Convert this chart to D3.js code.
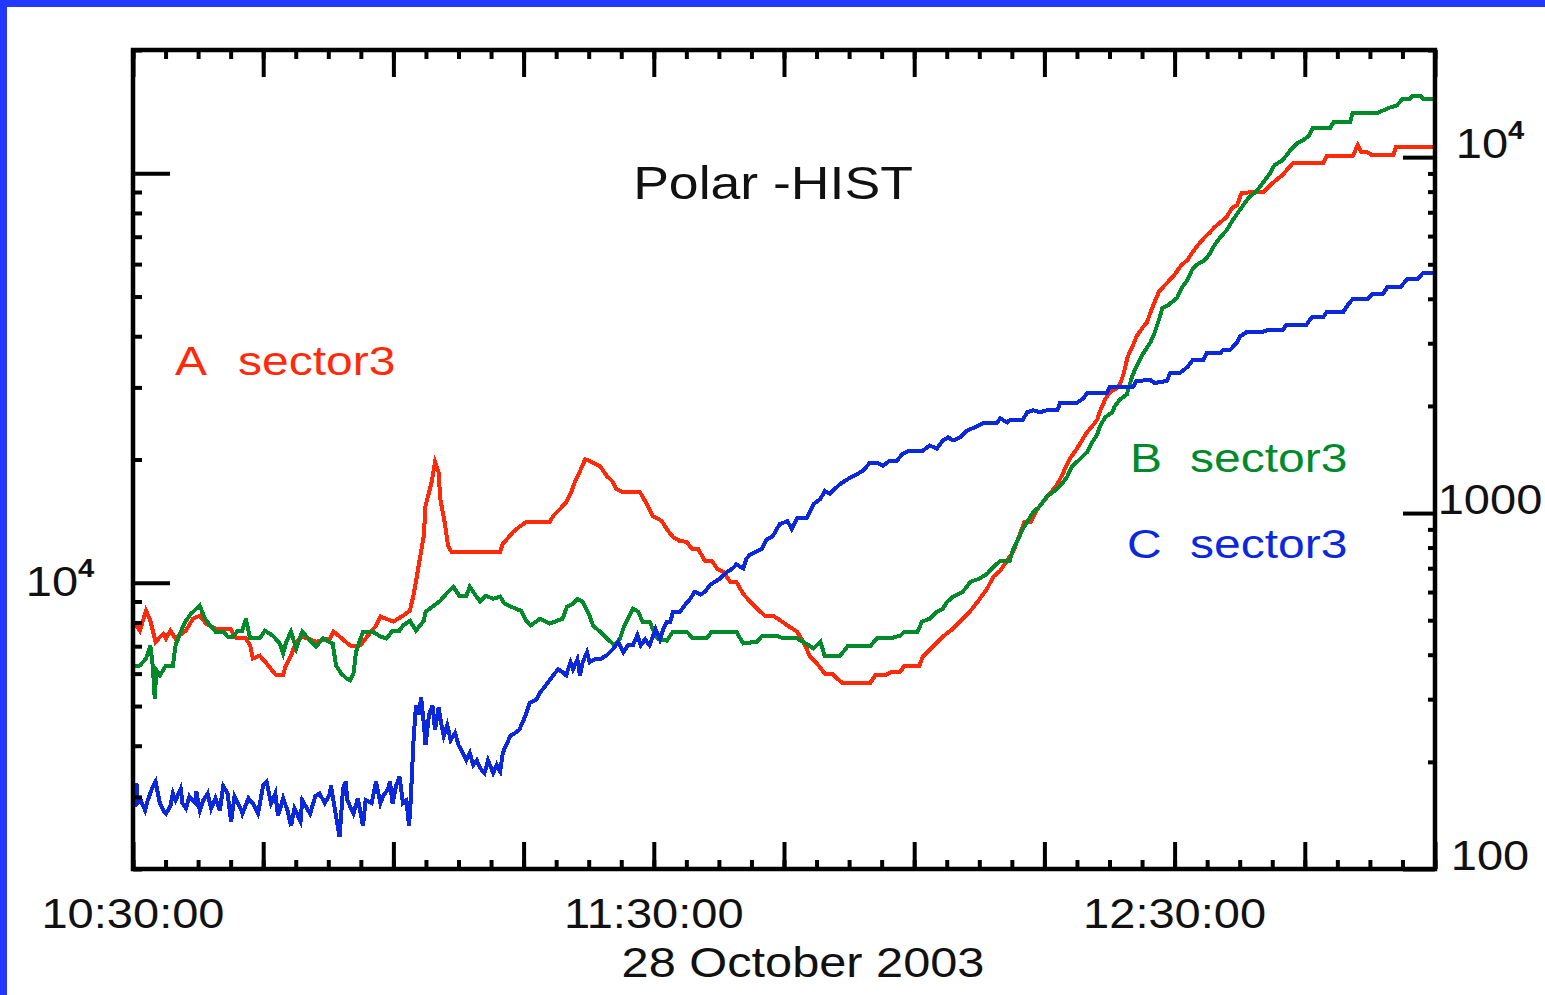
<!DOCTYPE html>
<html>
<head>
<meta charset="utf-8">
<script src="https://cdn.jsdelivr.net/npm/d3@7"></script>
<style>
  html, body { margin: 0; padding: 0; background: #fff; }
  svg { display: block; }
  text { font-family: "Liberation Sans", Arial, Helvetica, sans-serif; fill: #111; }
</style>
</head>
<body>
<svg id="chart" width="1545" height="995"></svg>
<script>
// ---- data -------------------------------------------------------------
const chartTitle = "Polar -HIST";
const dayLabel = "28 October 2003";
const dayISO = "2003-10-28";
const timeSpan = ["10:30:00", "13:00:00"];
const xTickLabels = ["10:30:00", "11:30:00", "12:30:00"];

const leftTickValues = [1e4];
const leftTickLabels = ["10^4"];
const rightTickValues = [100, 1000, 1e4];
const rightTickLabels = ["100", "1000", "10^4"];

const seriesLetters = ["A", "B", "C"];
const sectorName = "sector3";

// [minutes after 10:30 UT, counts]; A and B on the left axis, C on the right axis
const sectorA = [
  [0.0,8080],[0.8,7640],[1.5,8550],[2.0,8080],[2.6,7180],[3.5,7510],[3.8,7310],[4.3,7640],[4.9,7310],
  [6.1,7640],[6.9,8170],[7.7,8310],[8.4,7950],[9.5,7730],[11.2,7730],[11.9,7310],[13.0,7310],[13.5,7030],
  [13.8,6530],[14.6,6640],[15.4,6350],[16.5,5940],[17.3,5940],[17.6,6280],[18.2,6640],[18.8,7180],[19.5,7390],
  [21.1,7180],[22.7,7310],[23.1,7600],[23.8,7390],[25.0,7030],[25.7,6990],[26.2,7030],[26.8,7310],[28.0,7860],
  [28.5,8270],[30.0,8040],[31.1,8310],[31.9,8550],[32.3,9300],[32.6,10060],[33.1,11630],[33.5,13010],
  [33.7,15390],[34.4,17610],[34.8,19700],[35.2,18630],[35.4,16010],[35.9,14070],[36.3,12300],[36.7,11900],
  [42.3,11900],[42.6,12440],[43.8,13310],[44.5,13690],[45.3,14070],[48.0,14070],[48.4,14550],[49.2,15140],
  [49.9,15740],[50.5,16650],[50.9,17610],[51.5,18730],[52.1,20040],[52.9,19700],[53.8,19270],[54.6,18210],
  [55.2,17710],[55.7,16930],[56.4,16650],[58.4,16650],[59.0,15830],[59.9,14550],[60.9,14160],[61.5,13530],
  [62.2,12940],[63.0,12650],[63.8,12580],[64.4,12100],[65.1,12100],[65.9,11310],[66.7,11310],[67.3,10820],
  [68.0,10640],[68.8,10060],[69.5,10060],[70.3,9400],[71.3,8890],[71.9,8640],[72.8,8310],[73.7,8310],
  [74.3,8170],[75.4,7860],[76.5,7600],[77.2,7180],[78.0,6610],[78.8,6350],[79.7,6000],[80.6,6000],
  [81.1,5840],[81.8,5680],[84.9,5680],[85.5,5940],[86.6,5940],[87.5,6070],[88.4,6070],[88.9,6280],
  [90.6,6280],[91.0,6610],[92.2,6990],[93.3,7390],[94.5,7730],[95.3,8040],[96.5,8550],[97.4,9040],
  [98.4,9670],[99.1,10340],[99.9,10700],[101.4,11900],[102.7,14070],[103.4,14070],[104.2,15140],
  [105.3,16190],[106.5,17410],[107.2,18630],[107.9,20040],[108.7,21180],[109.4,22400],[109.9,23300],
  [110.5,24100],[111.1,25060],[111.4,26220],[112.0,28030],[112.5,29160],[113.1,29650],[113.7,30490],
  [114.1,32250],[114.6,35670],[115.1,37510],[115.6,39900],[116.3,41960],[116.8,43150],[117.2,45630],
  [117.7,48540],[118.2,51340],[118.9,53390],[119.8,55850],[120.8,59720],[121.5,61420],[122.0,63890],
  [122.7,66810],[123.5,69870],[124.1,71850],[124.6,73890],[125.3,75990],[126.0,78140],[126.6,82190],
  [127.2,83580],[127.7,89440],[129.0,89950],[130.2,89950],[131.4,95080],[132.4,98880],[133.6,105760],
  [137.1,105760],[137.5,110000],[140.5,110000],[141.1,117000],[141.5,112500],[142.2,112500],[142.8,110600],
  [145.2,110600],[145.5,115700],[150.0,115700]
];

const sectorB = [
  [0.0,6250],[0.8,6280],[1.5,6530],[2.0,7030],[2.3,6180],[2.5,5220],[2.7,6110],[3.1,5940],[3.8,6280],
  [4.6,6280],[4.9,7030],[5.5,7600],[6.1,8080],[6.7,8410],[7.3,8640],[7.7,8790],[8.3,8170],[8.9,7860],
  [9.5,7600],[10.4,7600],[10.9,7390],[11.5,7390],[12.1,7640],[12.6,7640],[13.0,8170],[13.5,7310],
  [14.6,7310],[15.2,7640],[16.1,7430],[16.9,7110],[17.3,6720],[17.6,7110],[18.2,7600],[18.8,6910],
  [19.5,7600],[20.2,7310],[21.1,6990],[21.9,7310],[23.0,7110],[23.4,6280],[24.0,6000],[24.6,5840],
  [25.0,5780],[25.4,6000],[25.7,6790],[26.5,7600],[27.6,7600],[28.5,7390],[29.2,7310],[29.9,7640],
  [30.7,7640],[31.1,7860],[31.9,8080],[32.6,7640],[33.5,8080],[33.7,8500],[34.5,8740],[35.4,9040],
  [36.1,9400],[36.9,9780],[37.6,9300],[38.4,9300],[38.8,9780],[39.5,9300],[40.0,8990],[40.6,9300],
  [41.5,9140],[42.3,9250],[42.8,8890],[44.1,8640],[44.7,8550],[45.3,8080],[45.8,7860],[46.9,8170],
  [48.0,7950],[49.5,8170],[50.0,8740],[50.7,8890],[51.2,9140],[51.8,8990],[52.5,8410],[53.0,7860],
  [53.8,7600],[54.6,7310],[55.5,7030],[56.1,7310],[56.6,7860],[57.0,8170],[57.6,8640],[58.2,8500],
  [58.7,8040],[59.5,8040],[60.4,7310],[61.5,7220],[62.2,7600],[63.8,7600],[64.5,7310],[66.1,7310],
  [66.7,7600],[69.5,7600],[70.3,7110],[71.9,7180],[72.5,7430],[74.2,7430],[74.9,7310],[76.5,7310],
  [77.2,7180],[78.4,6910],[79.2,7180],[79.7,6610],[80.6,6610],[81.5,6640],[82.3,6990],[84.9,6990],
  [85.7,7310],[87.2,7310],[88.4,7430],[88.9,7600],[90.4,7600],[90.9,8040],[91.8,8170],[92.6,8500],
  [93.3,8640],[93.8,8990],[94.5,9250],[95.6,9510],[96.5,10060],[97.5,10230],[98.4,10520],
  [99.3,11000],[99.9,11310],[101.0,11310],[101.4,12100],[102.0,12790],[102.5,13530],[103.1,14160],
  [103.7,14880],[104.5,15390],[105.3,16280],[106.0,16650],[106.8,17220],[107.6,18110],[108.2,19270],
  [109.1,20040],[109.9,20830],[110.5,22030],[111.1,23040],[111.4,24100],[112.0,25350],[112.8,26070],
  [113.1,26960],[113.7,28030],[114.5,28840],[115.1,31890],[115.6,33730],[116.3,36070],[117.2,38580],
  [117.7,40800],[118.2,43880],[118.6,46930],[119.3,47730],[120.3,49650],[120.8,52500],[121.5,54920],
  [122.0,58070],[122.5,59720],[123.5,61420],[124.1,63890],[124.6,66810],[125.3,69870],[126.0,72660],
  [126.7,76840],[127.5,81280],[128.5,86980],[129.3,89950],[129.8,92450],[130.4,96160],[131.0,100000],
  [131.5,104590],[132.4,107550],[132.9,110600],[133.5,115000],[134.1,118300],[134.8,120300],[135.5,123700],
  [135.9,128700],[137.9,128700],[138.3,133100],[140.2,133100],[140.5,140000],[143.3,140000],[144.0,142300],
  [144.8,144700],[145.6,146400],[146.3,152200],[147.1,152200],[147.5,154800],[148.3,154800],[148.6,152200],
  [150.0,152200]
];

const sectorC = [
  [0.0,163],[0.4,174],[0.5,153],[0.9,156],[1.4,146],[1.7,156],[2.3,171],[2.6,176],[3.1,153],[3.5,146],
  [3.8,143],[4.3,150],[4.6,163],[4.9,156],[5.5,168],[5.7,153],[6.1,148],[6.5,160],[7.2,153],[7.3,165],
  [7.7,146],[8.1,156],[8.6,163],[9.0,148],[9.5,158],[10.0,146],[10.4,171],[10.9,163],[11.3,136],
  [11.7,160],[12.4,148],[12.6,143],[13.3,158],[13.8,153],[14.4,143],[15.0,172],[15.4,176],[15.9,153],
  [16.4,163],[16.7,141],[17.3,158],[17.8,146],[18.2,132],[18.6,148],[19.3,136],[19.5,156],[20.4,143],
  [21.0,160],[21.5,163],[22.1,153],[22.7,163],[22.8,172],[23.3,145],[23.8,123],[24.2,168],[24.5,176],
  [24.7,156],[25.4,143],[25.9,158],[26.5,132],[26.8,156],[27.5,153],[28.0,176],[28.5,153],[28.8,160],
  [29.4,168],[29.6,176],[29.9,153],[30.3,171],[30.7,182],[31.1,153],[31.5,156],[31.8,132],[32.0,156],
  [32.3,226],[32.6,288],[32.9,271],[33.2,303],[33.5,257],[33.7,223],[34.1,271],[34.5,288],[34.8,246],
  [35.2,284],[35.5,257],[35.8,237],[36.2,254],[36.6,230],[37.1,241],[37.5,223],[37.9,214],[38.4,202],
  [38.8,212],[39.2,196],[39.6,202],[40.0,192],[40.5,186],[40.9,202],[41.5,186],[41.9,196],[42.3,188],
  [42.6,212],[43.1,226],[43.5,237],[44.0,241],[44.5,246],[45.2,269],[45.7,293],[46.5,299],[46.9,313],
  [47.8,334],[48.4,350],[49.0,364],[49.5,357],[49.9,350],[50.4,381],[50.7,364],[51.2,388],[51.5,350],
  [51.8,381],[52.3,406],[52.6,381],[53.2,388],[53.8,388],[54.6,399],[55.3,415],[55.9,434],[56.5,406],
  [57.0,425],[57.6,425],[58.1,454],[58.5,425],[59.0,442],[59.5,425],[60.2,472],[60.7,442],[61.1,472],
  [61.5,494],[61.9,494],[62.2,528],[63.0,528],[63.6,552],[64.2,574],[64.7,601],[65.4,590],[65.9,601],
  [66.5,629],[67.1,642],[67.6,654],[68.5,685],[69.1,699],[69.5,717],[70.3,699],[70.7,746],[71.1,765],
  [71.9,781],[72.5,796],[73.0,844],[73.7,861],[74.5,931],[75.4,949],[75.9,901],[76.5,968],[77.6,968],
  [78.4,1060],[79.2,1096],[79.7,1154],[80.3,1132],[80.6,1154],[81.5,1208],[82.6,1257],[83.5,1290],
  [84.1,1315],[84.9,1386],[85.7,1386],[86.4,1359],[87.2,1404],[88.0,1404],[88.7,1469],[89.5,1498],
  [91.0,1498],[91.8,1548],[92.6,1518],[93.3,1600],[93.9,1632],[94.5,1600],[95.3,1632],[96.1,1707],
  [96.7,1730],[97.9,1787],[99.5,1787],[99.9,1846],[100.7,1799],[101.0,1823],[102.5,1823],[103.0,1920],
  [103.7,1945],[104.5,1920],[105.3,1945],[106.5,1945],[106.8,2036],[108.7,2036],[109.5,2103],[109.9,2173],
  [112.2,2173],[112.5,2260],[115.2,2260],[115.6,2350],[117.2,2365],[117.7,2320],[119.1,2350],[119.5,2476],
  [120.6,2476],[121.5,2575],[122.1,2696],[123.3,2696],[123.7,2821],[125.3,2821],[125.6,2877],[126.4,2877],
  [127.2,3011],[127.5,3131],[128.4,3236],[130.2,3236],[131.0,3278],[132.5,3278],[132.9,3386],[135.2,3386],
  [135.8,3545],[137.1,3545],[137.5,3662],[139.4,3662],[140.0,3858],[140.5,3986],[142.2,3986],[142.8,4119],
  [144.0,4119],[144.5,4311],[146.0,4311],[146.8,4542],[148.0,4542],[148.6,4722],[150.0,4722]
];

// ---- layout -----------------------------------------------------------
const W = 1545, H = 995;
const plot = { left: 133, right: 1435, top: 50, bottom: 869 };
const colors = { A: "#ff2a0a", B: "#008a2a", C: "#0c28dc", frame: "#2238ff" };
const STRETCH = 1.12;   // the lettering is a little wider than the stock face

const svg = d3.select("#chart");
svg.append("rect").attr("width", W).attr("height", H).attr("fill", "#fff");

// blue page frame (left and top edges)
svg.append("rect").attr("x", 0).attr("y", 0).attr("width", 7).attr("height", H).attr("fill", colors.frame);
svg.append("rect").attr("x", 0).attr("y", 0).attr("width", W).attr("height", 7).attr("fill", colors.frame);

// ---- scales -----------------------------------------------------------
const parseT = d3.timeParse("%Y-%m-%d %H:%M:%S");
const t0 = parseT(dayISO + " " + timeSpan[0]);
const t1 = parseT(dayISO + " " + timeSpan[1]);
const at = m => new Date(t0.getTime() + m * 60000);

const x = d3.scaleTime().domain([t0, t1]).range([plot.left, plot.right]);
const yL = d3.scaleLog().domain([2000, 200000]).range([plot.bottom, plot.top]);
const yR = d3.scaleLog().domain([100, 20000]).range([plot.bottom, plot.top]);

// tick positions: majors every 15 min, four minor steps between them
const totalMin = (t1 - t0) / 60000;
const xMajor = d3.range(0, totalMin + 0.01, 15).map(at);
const xMinor = d3.range(0, totalMin + 0.01, 3.75).map(at);

function logTicks(scale) {
  const [a, b] = scale.domain();
  const major = [], minor = [];
  for (let k = Math.floor(Math.log10(a)); k <= Math.ceil(Math.log10(b)); k++) {
    for (let m = 1; m <= 9; m++) {
      const v = m * Math.pow(10, k);
      if (v < a * 0.9999 || v > b * 1.0001) continue;
      (m === 1 ? major : minor).push(v);
    }
  }
  return { major, minor };
}
const ticksL = logTicks(yL), ticksR = logTicks(yR);

// ---- series -----------------------------------------------------------
svg.append("defs").append("clipPath").attr("id", "plotClip")
  .append("rect").attr("x", plot.left).attr("y", plot.top)
  .attr("width", plot.right - plot.left).attr("height", plot.bottom - plot.top);

const lineL = d3.line().x(d => x(at(d[0]))).y(d => yL(d[1]));
const lineR = d3.line().x(d => x(at(d[0]))).y(d => yR(d[1]));

const lines = svg.append("g").attr("clip-path", "url(#plotClip)");
[[sectorA, lineL, colors.A], [sectorB, lineL, colors.B], [sectorC, lineR, colors.C]]
  .forEach(([data, gen, col]) => {
    lines.append("path").datum(data).attr("d", gen)
      .attr("fill", "none").attr("stroke", col).attr("stroke-width", 4)
      .attr("stroke-linejoin", "miter").attr("shape-rendering", "crispEdges");
  });

// ---- axes -------------------------------------------------------------
function tickAxis(gen, values, size, transform) {
  const g = svg.append("g").attr("transform", transform)
    .call(gen.tickValues(values).tickSize(size).tickFormat(() => ""));
  g.select(".domain").remove();
  g.selectAll(".tick line").attr("stroke", "#000").attr("stroke-width", 4);
  g.selectAll(".tick text").remove();
}
tickAxis(d3.axisBottom(x), xMinor, -9, `translate(0,${plot.bottom})`);
tickAxis(d3.axisBottom(x), xMajor, -27, `translate(0,${plot.bottom})`);
tickAxis(d3.axisTop(x), xMinor, -9, `translate(0,${plot.top})`);
tickAxis(d3.axisTop(x), xMajor, -27, `translate(0,${plot.top})`);
tickAxis(d3.axisLeft(yL), ticksL.minor, -9, `translate(${plot.left},0)`);
tickAxis(d3.axisLeft(yL), ticksL.major, -37, `translate(${plot.left},0)`);
tickAxis(d3.axisRight(yR), ticksR.minor, -7, `translate(${plot.right},0)`);
tickAxis(d3.axisRight(yR), ticksR.major, -32, `translate(${plot.right},0)`);

// plot frame
svg.append("rect")
  .attr("x", plot.left).attr("y", plot.top)
  .attr("width", plot.right - plot.left).attr("height", plot.bottom - plot.top)
  .attr("fill", "none").attr("stroke", "#000").attr("stroke-width", 4.5);

// ---- text -------------------------------------------------------------
function label(px, py, str, size, anchor, stretch, color) {
  const t = svg.append("text")
    .attr("transform", `translate(${px},${py}) scale(${stretch},1)`)
    .attr("text-anchor", anchor).attr("font-size", size);
  if (color) t.style("fill", color);
  const [base, exp] = str.split("^");
  t.append("tspan").text(base);
  if (exp) t.append("tspan").attr("font-size", size * 0.62).attr("font-weight", "bold")
    .attr("dy", -19).text(exp);
  return t;
}

// time labels
xTickLabels.forEach(s => label(x(parseT(dayISO + " " + s)), 928, s, 42, "middle", STRETCH));
label(803, 977, dayLabel, 42, "middle", 1.16);

// y labels
leftTickValues.forEach((v, i) => label(60, yL(v) + 13, leftTickLabels[i], 42, "middle", STRETCH));
rightTickValues.forEach((v, i) => label(1490, yR(v) + 1, rightTickLabels[i], 42, "middle", STRETCH));

// title
label(773, 199, chartTitle, 47, "middle", 1.14);

// series labels
const legendSpots = [
  { letterX: 175, wordX: 238, y: 375 },
  { letterX: 1130, wordX: 1190, y: 472 },
  { letterX: 1127, wordX: 1190, y: 558 }
];
const legendColors = [colors.A, colors.B, colors.C];
seriesLetters.forEach((letter, i) => {
  const s = legendSpots[i];
  label(s.letterX, s.y, letter, 40, "start", 1.2, legendColors[i]);
  label(s.wordX, s.y, sectorName, 40, "start", 1.2, legendColors[i]);
});
</script>
</body>
</html>
